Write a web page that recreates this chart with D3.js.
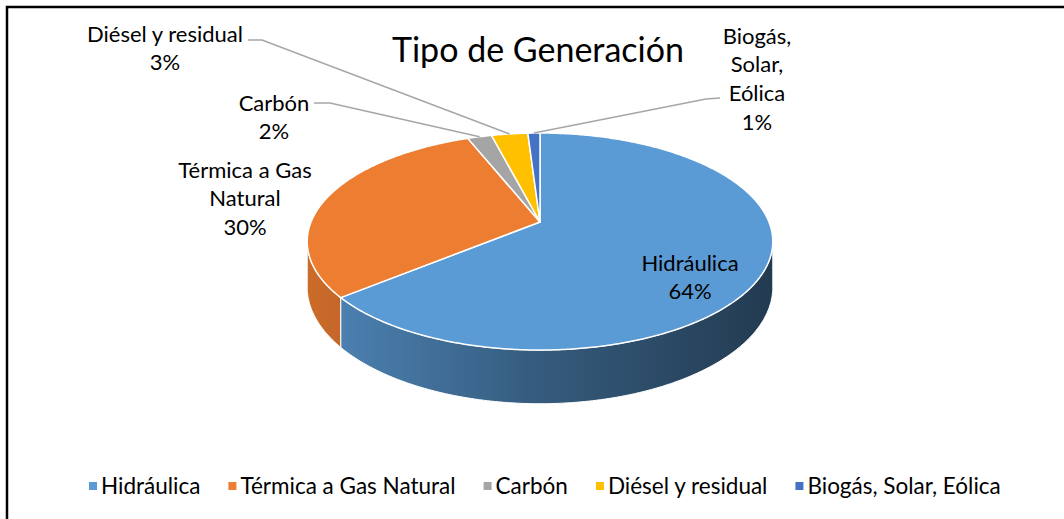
<!DOCTYPE html>
<html>
<head>
<meta charset="utf-8">
<script src="https://cdn.jsdelivr.net/npm/d3@7"></script>
<style>
  body { margin: 0; background: #fff; }
  svg { display: block; font-family: Lato, "Open Sans", sans-serif; }
</style>
</head>
<body>
<svg id="chart" width="1064" height="519"></svg>
<script>
// chart data
var categories = ["Hidráulica", "Térmica a Gas Natural", "Carbón", "Diésel y residual", "Biogás, Solar, Eólica"];
var shares = [64, 30, 2, 3, 1];
var colors = ["#5b9bd5", "#ed7d31", "#a5a5a5", "#ffc000", "#4472c4"];
var labelLines = [["Hidráulica"], ["Térmica a Gas", "Natural"], ["Carbón"], ["Diésel y residual"], ["Biogás,", "Solar,", "Eólica"]];

var svg = d3.select("#chart");

// frame (right and bottom edges fall outside the picture)
svg.append("rect")
    .attr("x", 7).attr("y", 7)
    .attr("width", 1200).attr("height", 700)
    .attr("fill", "none").attr("stroke", "#000").attr("stroke-width", 2.5);

// title
svg.append("text")
    .attr("x", 538).attr("y", 62)
    .attr("text-anchor", "middle")
    .attr("font-size", 34)
    .attr("fill", "#000")
    .text("Tipo de Generación");

// perspective pie: angle clockwise from 12 o'clock
var cx = 540, cy = 222, f = 229, fs = 105, k = 0.18, depth = 44;
function proj(theta, r, h) {
    var x = r * Math.sin(theta), z = r * Math.cos(theta);
    var w = 1 + k * z;
    return [cx + f * x / w, cy - fs * z / w + depth * h / w];
}
function rim(a0, a1, h) {
    var n = Math.max(2, Math.ceil(Math.abs(a1 - a0) / 0.01));
    var pts = [];
    for (var i = 0; i <= n; i++) pts.push(proj(a0 + (a1 - a0) * i / n, 1, h));
    return pts;
}

var pie = d3.pie().sort(null).value(function (d) { return d; });
var arcs = pie(shares);

var line = d3.line();
var defs = svg.append("defs");
var gx = d3.scaleLinear().domain([0, 1]).range([305, 773]);

// side walls, only the front part is visible
var visA = Math.acos(-k), visB = 2 * Math.PI - Math.acos(-k);
var walls = svg.append("g");
arcs.forEach(function (a, i) {
    var a0 = Math.max(a.startAngle, visA), a1 = Math.min(a.endAngle, visB);
    if (a1 <= a0) return;
    var grad = defs.append("linearGradient")
        .attr("id", "wall" + i)
        .attr("gradientUnits", "userSpaceOnUse")
        .attr("x1", gx(0)).attr("x2", gx(1)).attr("y1", 0).attr("y2", 0);
    [[0, 0.4], [0.5, 1.5], [1, 2.7]].forEach(function (s) {
        grad.append("stop").attr("offset", s[0]).attr("stop-color", d3.color(colors[i]).darker(s[1]));
    });
    var pts = rim(a0, a1, 0).concat(rim(a1, a0, 1));
    walls.append("path")
        .attr("d", line(pts) + "Z")
        .attr("fill", "url(#wall" + i + ")")
        .attr("stroke", "#fff").attr("stroke-width", 1);
});

// top faces
var tops = svg.append("g");
arcs.forEach(function (a, i) {
    var pts = [proj(0, 0, 0)].concat(rim(a.startAngle, a.endAngle, 0));
    tops.append("path")
        .attr("d", line(pts) + "Z")
        .attr("fill", colors[i])
        .attr("stroke", "#fff").attr("stroke-width", 1.5)
        .attr("stroke-linejoin", "round");
});

// data labels
var labelPos = [[690, 263], [245, 170], [274, 103], [165, 34], [757, 36]];
var leaderStart = [null, null, [[314, 103], [330, 103]], [[248, 40], [262, 40]], [[720, 98], [706, 99]]];
var lineH = 28.7;
var labels = svg.append("g").attr("font-size", 22).attr("fill", "#000").attr("text-anchor", "middle");
arcs.forEach(function (a, i) {
    var lines = labelLines[i].concat([shares[i] + "%"]);
    var t = labels.append("text")
        .attr("x", labelPos[i][0]).attr("y", labelPos[i][1]);
    lines.forEach(function (s, j) {
        t.append("tspan")
            .attr("x", labelPos[i][0])
            .attr("y", labelPos[i][1] + j * lineH)
            .attr("dy", "0.35em")
            .text(s);
    });
    if (leaderStart[i]) {
        var mid = (a.startAngle + a.endAngle) / 2;
        var pts = leaderStart[i].concat([proj(mid, 1, 0)]);
        svg.append("path")
            .attr("d", line(pts))
            .attr("fill", "none")
            .attr("stroke", "#a6a6a6").attr("stroke-width", 1.5);
    }
});

// legend, items laid out from the measured text widths
var legend = svg.append("g").attr("font-size", 22.5);
var lx = 89;
categories.forEach(function (c, i) {
    var g = legend.append("g").attr("transform", "translate(" + lx + ",486)");
    g.append("rect").attr("x", 0).attr("y", -4).attr("width", 8).attr("height", 8).attr("fill", colors[i]);
    var t = g.append("text").attr("x", 12).attr("dy", "0.35em").attr("fill", "#000").text(c);
    lx += 12 + t.node().getComputedTextLength() + 28;
});
</script>
</body>
</html>
